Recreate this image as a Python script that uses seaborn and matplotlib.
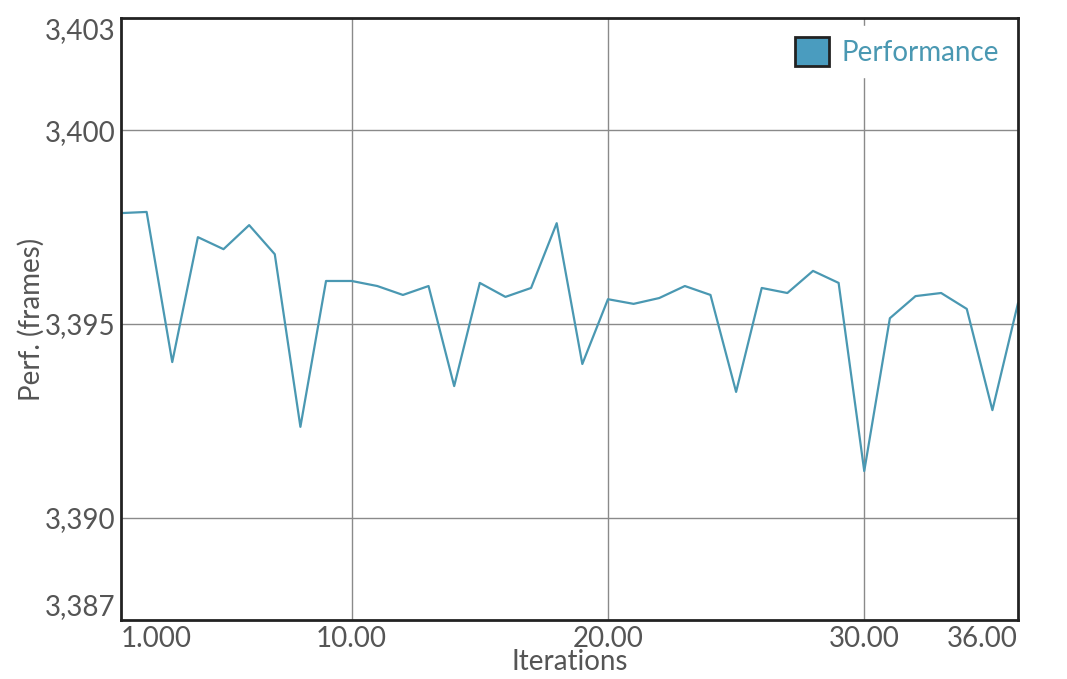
"""
Performance per iteration line chart.
"""

# imports
import pandas as pd
import seaborn as sns
import matplotlib.pyplot as plt
from matplotlib.patches import Patch

# data
iterations = list(range(1, 37))
performance = [
    3397.86, 3397.89, 3394.02, 3397.24, 3396.93, 3397.55, 3396.80, 3392.35,
    3396.11, 3396.11, 3395.98, 3395.75, 3395.98, 3393.40, 3396.06, 3395.70,
    3395.93, 3397.60, 3393.97, 3395.64, 3395.52, 3395.67, 3395.98, 3395.75,
    3393.25, 3395.93, 3395.80, 3396.37, 3396.06, 3391.21, 3395.15, 3395.72,
    3395.80, 3395.39, 3392.78, 3395.54,
]
x_ticks = [1, 10, 20, 30, 36]
x_tick_labels = ['1.000', '10.00', '20.00', '30.00', '36.00']
y_min, y_max = 3387.37, 3402.89
y_ticks = [y_min, 3390, 3395, 3400, y_max]
y_tick_labels = ['3,387', '3,390', '3,395', '3,400', '3,403']

df = pd.DataFrame({'Iterations': iterations, 'Performance': performance})

line_color = '#4a98b2'
text_color = '#555555'

sns.set_style('white')
plt.rcParams['font.family'] = ['Lato', 'DejaVu Sans']

fig = plt.figure(figsize=(10.67, 6.79), dpi=100)
ax = fig.add_axes([0.1134, 0.0869, 0.8407, 0.8866])

sns.lineplot(data=df, x='Iterations', y='Performance', color=line_color,
             linewidth=1.6, ax=ax)

ax.set_xlim(1, 36)
ax.set_ylim(y_min, y_max)

# grid lines only at the inner ticks
for x in x_ticks[1:-1]:
    ax.axvline(x, color='#8a8a8a', linewidth=1, zorder=0)
for y in y_ticks[1:-1]:
    ax.axhline(y, color='#8a8a8a', linewidth=1, zorder=0)

ax.set_xticks(x_ticks)
ax.set_xticklabels(x_tick_labels, fontsize=20, color=text_color)
ax.set_yticks(y_ticks)
ax.set_yticklabels(y_tick_labels, fontsize=20, color=text_color)
ax.tick_params(axis='both', length=0, pad=4)

# keep edge labels inside the axes range
xl = ax.get_xticklabels()
xl[0].set_ha('left')
xl[-1].set_ha('right')
yl = ax.get_yticklabels()
yl[0].set_va('bottom')
yl[-1].set_va('top')

ax.set_xlabel('Iterations', fontsize=20, color=text_color)
ax.xaxis.set_label_coords(0.5, -0.048)
ax.set_ylabel('Perf. (frames)', fontsize=20, color=text_color)
ax.yaxis.set_label_coords(-0.085, 0.5)

for spine in ax.spines.values():
    spine.set_color('#222222')
    spine.set_linewidth(2)

handle = Patch(facecolor='#4a9cbf', edgecolor='#222222', linewidth=2,
               label='Performance')
ax.legend(handles=[handle], loc='upper right', frameon=True, framealpha=1,
          edgecolor='white', fontsize=20, labelcolor=line_color,
          handlelength=1.2, handleheight=1.2, handletextpad=0.45,
          borderaxespad=0.3)

fig.savefig('out.png', dpi=100)
